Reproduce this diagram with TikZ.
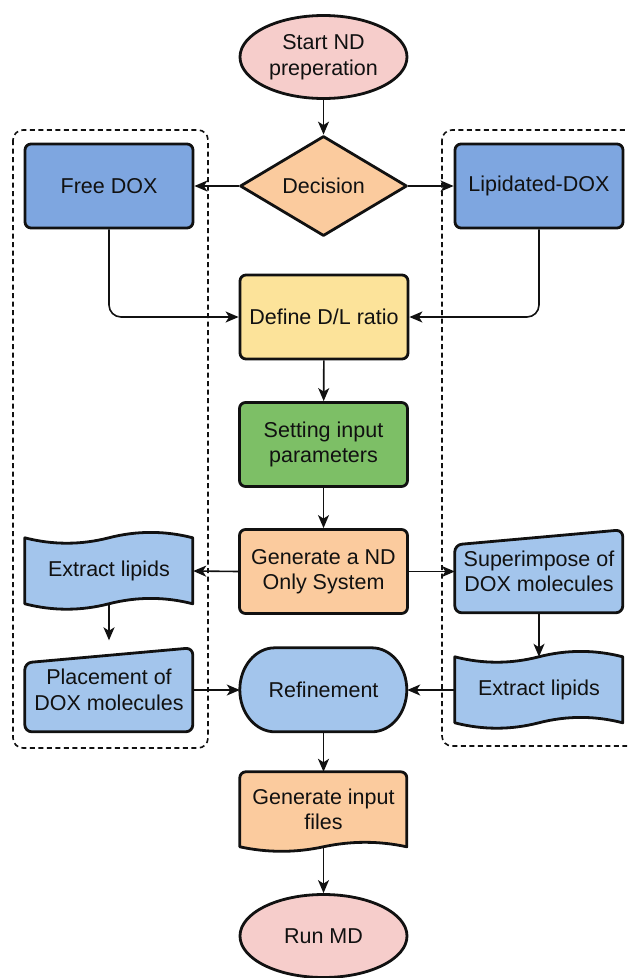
\documentclass[tikz,border=0pt]{standalone}
\usepackage{fontspec}
\setmainfont{Liberation Sans}
\usetikzlibrary{shapes.geometric,arrows.meta,calc,backgrounds}

\definecolor{pinkfill}{HTML}{F6CDCB}
\definecolor{orangefill}{HTML}{FBCB9E}
\definecolor{darkblue}{HTML}{7EA6E0}
\definecolor{lightblue}{HTML}{A3C5EC}
\definecolor{yellowfill}{HTML}{FCE39A}
\definecolor{greenfill}{HTML}{7DBF66}
\definecolor{ink}{HTML}{111111}

% Tape (wavy top and bottom); box edges sit on the mid line of each wave
\newcommand\tapeshape[4]{%
  \filldraw[shapeline,fill=lightblue,shift={(#1.north west)}] (0,0)
    .. controls ({#2/6},{0.6*#4}) and ({#2/3},{0.6*#4}) .. ({#2/2},0)
    .. controls ({2*#2/3},{-0.6*#4}) and ({5*#2/6},{-0.6*#4}) .. (#2,0)
    -- (#2,#3)
    .. controls ({5*#2/6},{#3-0.6*#4}) and ({2*#2/3},{#3-0.6*#4}) .. ({#2/2},#3)
    .. controls ({#2/3},{#3+0.6*#4}) and ({#2/6},{#3+0.6*#4}) .. (0,#3)
    -- cycle;}
% Manual input (top edge rising to the right)
\newcommand\manualshape[4]{%
  \filldraw[shapeline,fill=lightblue,rounded corners=7pt,shift={(#1.north west)}]
    (0,#4) -- (#2,0) -- (#2,#3) -- (0,#3) -- cycle;}
% Rounded terminator with elliptic ends
\newcommand\stadiumshape[4]{%
  \filldraw[shapeline,fill=lightblue,shift={(#1.north west)}]
    (#4,0) -- ({#2-#4},0)
    arc[start angle=-90,end angle=90,x radius=#4,y radius={#3/2}]
    -- (#4,#3)
    arc[start angle=90,end angle=270,x radius=#4,y radius={#3/2}]
    -- cycle;}
% Document (flat top, wavy bottom)
\newcommand\docshape[4]{%
  \filldraw[shapeline,fill=orangefill,shift={(#1.north west)}]
    (0,#3) -- (0,6) arc[start angle=180,end angle=270,radius=6]
    -- ({#2-6},0) arc[start angle=270,end angle=360,radius=6]
    -- (#2,#3)
    .. controls ({5*#2/6},{#3-0.6*#4}) and ({2*#2/3},{#3-0.6*#4}) .. ({#2/2},#3)
    .. controls ({#2/3},{#3+0.6*#4}) and ({#2/6},{#3+0.6*#4}) .. (0,#3)
    -- cycle;}

\begin{document}
\begin{tikzpicture}[x=1pt,y=-1pt,
  every node/.style={font=\fontsize{21.5}{25.5}\selectfont,align=center,text=ink},
  shapeline/.style={draw=ink,line width=2.8pt,line join=round},
  box/.style={shapeline,rounded corners=6pt,minimum width=168pt,minimum height=84pt,inner sep=0pt},
  term/.style={shapeline,ellipse,fill=pinkfill,minimum width=167pt,minimum height=83pt,inner sep=0pt},
  decide/.style={shapeline,diamond,fill=orangefill,minimum width=167pt,minimum height=100pt,inner sep=0pt},
  slot/.style={minimum width=168pt,inner sep=0pt},
  arr/.style={draw=ink,line width=1.6pt,-{Stealth[length=13pt,width=11pt,inset=3.5pt]}},
  dashbox/.style={draw=ink,line width=1.6pt,dash pattern=on 5pt off 3.5pt,rounded corners=10pt}]

\useasboundingbox (0,0) rectangle (627,978);

% main column
\node[term] (start) at (323.5,57) {Start ND\\preperation};
\node[decide] (dec) at (323.5,186) {Decision};
\node[box,fill=darkblue] (free) at (109,186) {Free DOX};
\node[box,fill=darkblue] (lip) at (539,186) {Lipidated-DOX};
\node[box,fill=yellowfill] (dl) at (324,317) {Define D/L ratio};
\node[box,fill=greenfill] (set) at (323.5,444.5) {Setting input\\parameters};
\node[box,fill=orangefill] (gen) at (323.5,571.5) {Generate a ND\\Only System};

% custom-shaped steps (outlines drawn on the background layer)
\node[slot,minimum height=66pt] (exL) at (109,571) {Extract lipids};
\node[slot,minimum height=83pt] (sup) at (539,571.5) {Superimpose of\\DOX molecules};
\node[slot,minimum height=66pt] (exR) at (539,690) {Extract lipids};
\node[slot,minimum height=84pt] (plc) at (109,690) {Placement of\\DOX molecules};
\node[slot,minimum width=167pt,minimum height=84pt] (refn) at (323.5,690) {Refinement};
\node[slot,minimum width=167pt,minimum height=75pt] (gif) at (323.5,809.5) {Generate input\\files};
\node[term] (run) at (323.5,936) {Run MD};

\begin{pgfonlayer}{background}
  \draw[dashbox] (13,130) rectangle (208,748);
  \begin{scope}
    \clip (0,0) rectangle (627,978);
    \draw[dashbox] (442,130) rectangle (660,746);
  \end{scope}
  \tapeshape{exL}{168}{66}{12}
  \tapeshape{exR}{168}{66}{12}
  \manualshape{sup}{168}{83}{15}
  \manualshape{plc}{168}{84}{15}
  \stadiumshape{refn}{167}{84}{35}
  \docshape{gif}{167}{75}{10}
\end{pgfonlayer}

% connectors
\draw[arr] (start) -- (dec);
\draw[arr] (dec.west) -- (free.east);
\draw[arr] (dec.east) -- (lip.west);
\draw[arr,rounded corners=12pt] (free.south) |- (dl.west);
\draw[arr,rounded corners=12pt] (lip.south) |- (dl.east);
\draw[arr] (dl) -- (set);
\draw[arr] (set) -- (gen);
\draw[arr] (gen.west) -- (exL.east);
\draw[arr] (gen.east) -- (sup.west);
\draw[arr,shorten >=7.5pt] (exL.south) -- (plc.north);
\draw[arr] (sup.south) -- (exR.north);
\draw[arr] (plc.east) -- (refn.west);
\draw[arr] (exR.west) -- (refn.east);
\draw[arr] (refn) -- (gif);
\draw[arr] (gif) -- (run);
\end{tikzpicture}
\end{document}
